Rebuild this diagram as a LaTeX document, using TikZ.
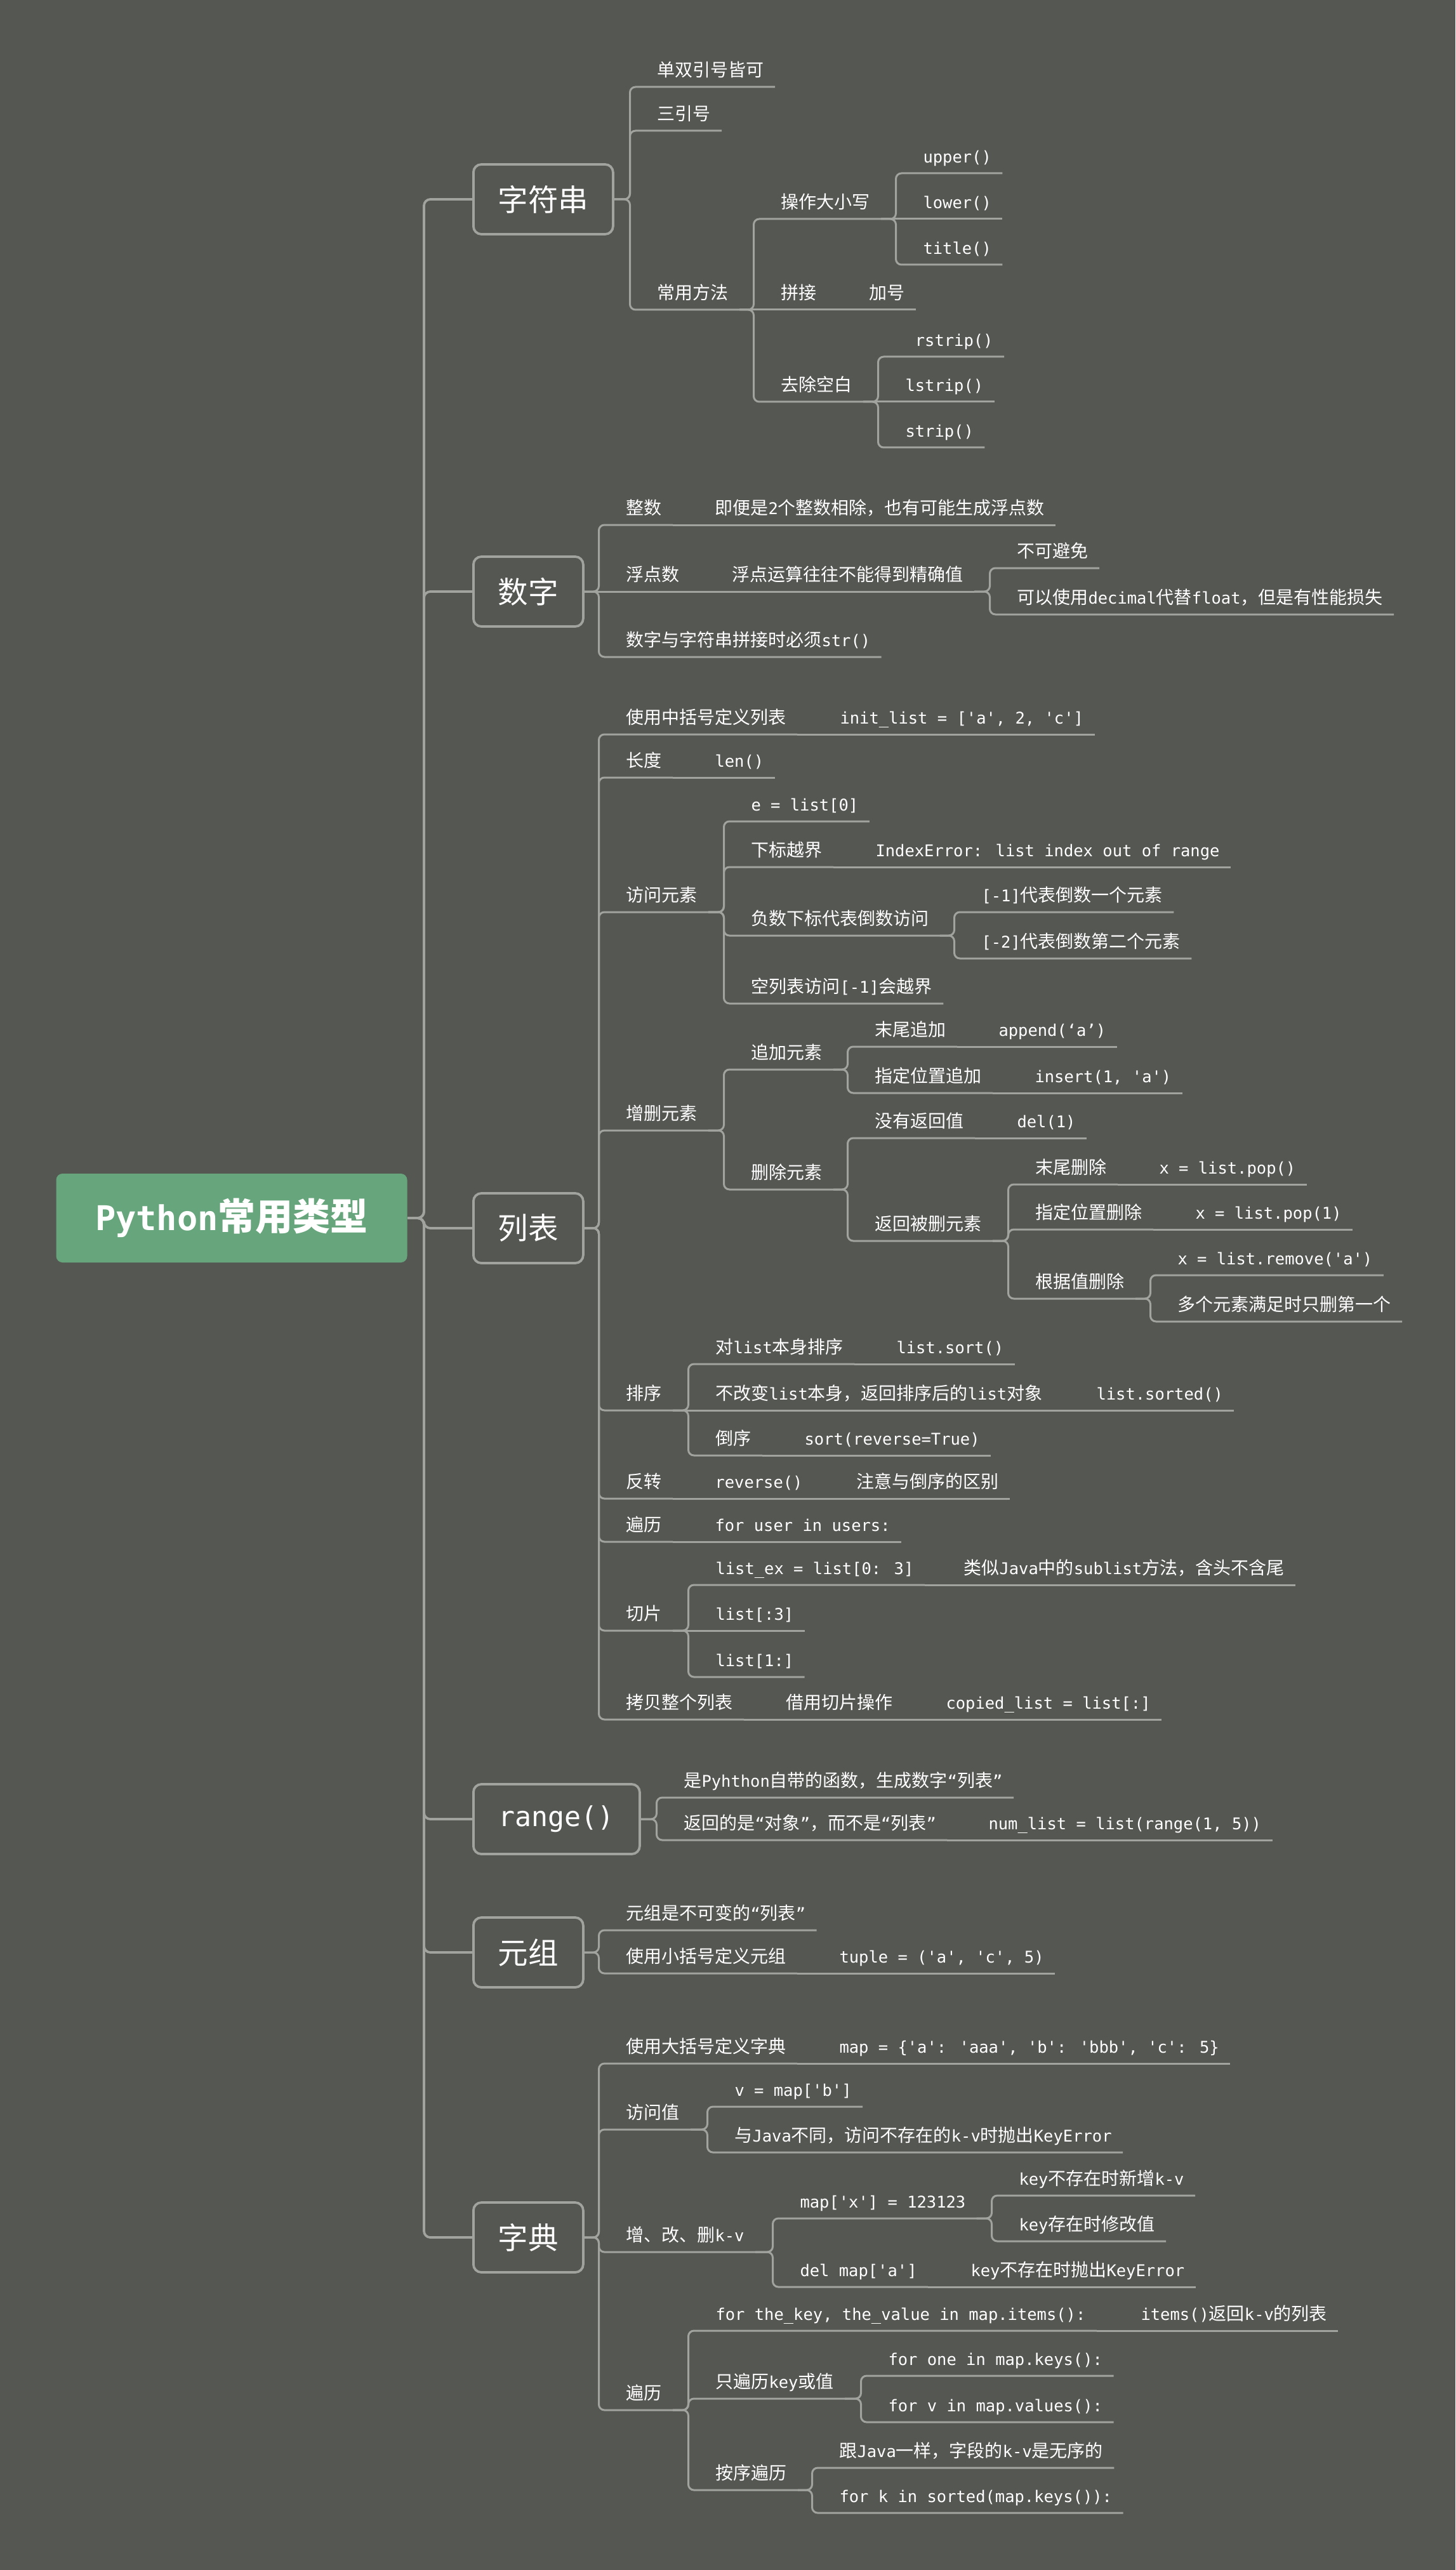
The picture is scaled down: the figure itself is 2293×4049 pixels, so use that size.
\documentclass[tikz,border=0pt]{standalone}
\usepackage{fontspec}
\setmainfont{Noto Sans CJK SC}
\newfontfamily\codefont{DejaVu Sans Mono}[Scale=0.91]
\usepackage{xcolor}
\usepackage{tikz}
\definecolor{bgc}{RGB}{85,87,83}
\definecolor{linec}{RGB}{160,163,158}
\definecolor{rootc}{RGB}{103,165,124}
\newcommand{\cd}[1]{{\codefont #1}}
\tikzstyle{rootbox} = [fill=rootc, rounded corners=4pt, anchor=west, minimum width=221.2pt, minimum height=56pt, text=white, font=\fontsize{23.6pt}{28pt}\selectfont\bfseries]
\tikzstyle{topicbox} = [draw=linec, line width=1.5pt, rounded corners=5pt, anchor=west, minimum height=44pt, inner xsep=0pt, text=white, font=\fontsize{19pt}{23pt}\selectfont]
\tikzstyle{leafnode} = [anchor=south west, inner xsep=6.8pt, inner ysep=0pt, text height=9pt, text depth=6.3pt, text=white, font=\fontsize{11.2pt}{13pt}\selectfont]
\tikzstyle{stem} = [draw=linec, line width=1.2pt, rounded corners=3.5pt]
\tikzstyle{trunkline} = [draw=linec, line width=1.5pt, rounded corners=4pt]

\begin{document}
\begin{tikzpicture}[x=0.4pt,y=-0.4pt]
    \path[use as bounding box, fill=bgc] (0,0) rectangle (2293,4049);
    \node[rootbox] (root) at (88,1919) {\cd{Python}常用类型};
    % topics
    \node[topicbox, minimum width=88pt] (str) at (744,314) {字符串};
    \node[topicbox, minimum width=69.2pt] (num) at (744,932) {数字};
    \node[topicbox, minimum width=69.2pt] (lst) at (744,1935) {列表};
    \node[topicbox, minimum width=104.8pt] (rng) at (744,2866) {\cd{range()}};
    \node[topicbox, minimum width=69.2pt] (tup) at (744,3076) {元组};
    \node[topicbox, minimum width=69.2pt] (dct) at (744,3525) {字典};
    % string
    \node[leafnode] (strQuote) at (1018,137) {单双引号皆可};
    \node[leafnode] (strTriple) at (1018,206) {三引号};
    \node[leafnode] (strMethod) at (1018,488) {常用方法};
    \node[leafnode] (strCase) at (1213,345) {操作大小写};
    \node[leafnode] (strUpper) at (1437,273) {\cd{upper()}};
    \node[leafnode] (strLower) at (1437,345) {\cd{lower()}};
    \node[leafnode] (strTitle) at (1437,417) {\cd{title()}};
    \node[leafnode] (strJoin) at (1213,488) {拼接};
    \node[leafnode] (strPlus) at (1352,488) {加号};
    \node[leafnode] (strStrip) at (1213,633) {去除空白};
    \node[leafnode] (strR) at (1409,562) {\cd{\ rstrip()}};
    \node[leafnode] (strL) at (1409,633) {\cd{lstrip()}};
    \node[leafnode] (strS) at (1409,705) {\cd{strip()}};
    % numbers
    \node[leafnode] (numInt) at (969,827) {整数};
    \node[leafnode] (numIntNote) at (1109,827) {即便是\cd{2}个整数相除，也有可能生成浮点数};
    \node[leafnode] (numFloat) at (969,932) {浮点数};
    \node[leafnode] (numFloatNote) at (1136,932) {浮点运算往往不能得到精确值};
    \node[leafnode] (numUnavoid) at (1585,895) {不可避免};
    \node[leafnode] (numDecimal) at (1585,968) {可以使用\cd{decimal}代替\cd{float}，但是有性能损失};
    \node[leafnode] (numStr) at (969,1035) {数字与字符串拼接时必须\cd{str()}};
    % list
    \node[leafnode] (lstDef) at (969,1157) {使用中括号定义列表};
    \node[leafnode] (lstDefCode) at (1306,1157) {\cd{init\_list = ['a', 2, 'c']}};
    \node[leafnode] (lstLen) at (969,1225) {长度};
    \node[leafnode] (lstLenCode) at (1109,1225) {\cd{len()}};
    \node[leafnode] (lstGet) at (969,1437) {访问元素};
    \node[leafnode] (lstGetA) at (1166,1294) {\cd{e = list[0]}};
    \node[leafnode] (lstGetB) at (1166,1366) {下标越界};
    \node[leafnode] (lstGetBErr) at (1362,1366) {\cd{IndexError: list index out of range}};
    \node[leafnode] (lstGetC) at (1166,1474) {负数下标代表倒数访问};
    \node[leafnode] (lstGetC1) at (1529,1437) {\cd{[-1]}代表倒数一个元素};
    \node[leafnode] (lstGetC2) at (1529,1510) {\cd{[-2]}代表倒数第二个元素};
    \node[leafnode] (lstGetD) at (1166,1581) {空列表访问\cd{[-1]}会越界};
    \node[leafnode] (lstEdit) at (969,1781) {增删元素};
    \node[leafnode] (lstAdd) at (1166,1685) {追加元素};
    \node[leafnode] (lstAddEnd) at (1361,1649) {末尾追加};
    \node[leafnode] (lstAddEndCode) at (1556,1649) {\cd{append(‘a’)}};
    \node[leafnode] (lstAddAt) at (1361,1722) {指定位置追加};
    \node[leafnode] (lstAddAtCode) at (1613,1722) {\cd{insert(1, 'a')}};
    \node[leafnode] (lstDel) at (1166,1874) {删除元素};
    \node[leafnode] (lstDelNone) at (1361,1793) {没有返回值};
    \node[leafnode] (lstDelNoneCode) at (1585,1793) {\cd{del(1)}};
    \node[leafnode] (lstDelRet) at (1361,1955) {返回被删元素};
    \node[leafnode] (lstPopEnd) at (1614,1866) {末尾删除};
    \node[leafnode] (lstPopEndCode) at (1809,1866) {\cd{x = list.pop()}};
    \node[leafnode] (lstPopAt) at (1614,1937) {指定位置删除};
    \node[leafnode] (lstPopAtCode) at (1866,1937) {\cd{x = list.pop(1)}};
    \node[leafnode] (lstRemove) at (1614,2046) {根据值删除};
    \node[leafnode] (lstRemoveCode) at (1838,2009) {\cd{x = list.remove('a')}};
    \node[leafnode] (lstRemoveNote) at (1838,2082) {多个元素满足时只删第一个};
    \node[leafnode] (lstSort) at (969,2222) {排序};
    \node[leafnode] (lstSortA) at (1110,2149) {对\cd{list}本身排序};
    \node[leafnode] (lstSortACode) at (1395,2149) {\cd{list.sort()}};
    \node[leafnode] (lstSortB) at (1110,2222) {不改变\cd{list}本身，返回排序后的\cd{list}对象};
    \node[leafnode] (lstSortBCode) at (1710,2222) {\cd{list.sorted()}};
    \node[leafnode] (lstSortC) at (1110,2293) {倒序};
    \node[leafnode] (lstSortCCode) at (1250,2293) {\cd{sort(reverse=True)}};
    \node[leafnode] (lstRev) at (969,2361) {反转};
    \node[leafnode] (lstRevCode) at (1109,2361) {\cd{reverse()}};
    \node[leafnode] (lstRevNote) at (1332,2361) {注意与倒序的区别};
    \node[leafnode] (lstLoop) at (969,2429) {遍历};
    \node[leafnode] (lstLoopCode) at (1109,2429) {\cd{for user in users:}};
    \node[leafnode] (lstSlice) at (969,2569) {切片};
    \node[leafnode] (lstSliceA) at (1110,2497) {\cd{list\_ex = list[0: 3]}};
    \node[leafnode] (lstSliceANote) at (1501,2497) {类似\cd{Java}中的\cd{sublist}方法，含头不含尾};
    \node[leafnode] (lstSliceB) at (1110,2569) {\cd{list[:3]}};
    \node[leafnode] (lstSliceC) at (1110,2642) {\cd{list[1:]}};
    \node[leafnode] (lstCopy) at (969,2709) {拷贝整个列表};
    \node[leafnode] (lstCopyHow) at (1221,2709) {借用切片操作};
    \node[leafnode] (lstCopyCode) at (1473,2709) {\cd{copied\_list = list[:]}};
    % range
    \node[leafnode] (rngA) at (1060,2832) {是\cd{Pyhthon}自带的函数，生成数字\cd{“}列表\cd{”}};
    \node[leafnode] (rngB) at (1060,2899) {返回的是\cd{“}对象\cd{”}，而不是\cd{“}列表\cd{”}};
    \node[leafnode] (rngBCode) at (1540,2899) {\cd{num\_list = list(range(1, 5))}};
    % tuple
    \node[leafnode] (tupA) at (969,3041) {元组是不可变的\cd{“}列表\cd{”}};
    \node[leafnode] (tupB) at (969,3109) {使用小括号定义元组};
    \node[leafnode] (tupBCode) at (1305,3109) {\cd{tuple = ('a', 'c', 5)}};
    % dict
    \node[leafnode] (dctDef) at (969,3251) {使用大括号定义字典};
    \node[leafnode] (dctDefCode) at (1305,3251) {\cd{map = \{'a': 'aaa', 'b': 'bbb', 'c': 5\}}};
    \node[leafnode] (dctGet) at (969,3355) {访问值};
    \node[leafnode] (dctGetA) at (1140,3319) {\cd{v = map['b']}};
    \node[leafnode] (dctGetB) at (1140,3391) {与\cd{Java}不同，访问不存在的\cd{k-v}时抛出\cd{KeyError}};
    \node[leafnode] (dctEdit) at (969,3548) {增、改、删\cd{k-v}};
    \node[leafnode] (dctSet) at (1243,3495) {\cd{map['x'] = 123123}};
    \node[leafnode] (dctSetA) at (1588,3459) {\cd{key}不存在时新增\cd{k-v}};
    \node[leafnode] (dctSetB) at (1588,3531) {\cd{key}存在时修改值};
    \node[leafnode] (dctDelKey) at (1243,3603) {\cd{del map['a']}};
    \node[leafnode] (dctDelKeyNote) at (1512,3603) {\cd{key}不存在时抛出\cd{KeyError}};
    \node[leafnode] (dctLoop) at (969,3797) {遍历};
    \node[leafnode] (dctLoopA) at (1110,3672) {\cd{for the\_key, the\_value in map.items():}};
    \node[leafnode] (dctLoopANote) at (1780,3672) {\cd{items()}返回\cd{k-v}的列表};
    \node[leafnode] (dctLoopB) at (1110,3779) {只遍历\cd{key}或值};
    \node[leafnode] (dctLoopB1) at (1382,3743) {\cd{for one in map.keys():}};
    \node[leafnode] (dctLoopB2) at (1382,3816) {\cd{for v in map.values():}};
    \node[leafnode] (dctLoopC) at (1110,3923) {按序遍历};
    \node[leafnode] (dctLoopC1) at (1305,3888) {跟\cd{Java}一样，字段的\cd{k-v}是无序的};
    \node[leafnode] (dctLoopC2) at (1305,3959) {\cd{for k in sorted(map.keys()):}};

    % connectors
    \foreach \tp in {str,num,lst,rng,tup,dct}
        \draw[trunkline] (root.east) -| ([xshift=-30.4pt]\tp.west) -- (\tp.west);
    \foreach \pa/\ch in {str/strQuote, str/strTriple, str/strMethod, num/numInt, num/numStr,
        lst/lstDef, lst/lstLen, lst/lstGet, lst/lstEdit, lst/lstSort, lst/lstRev, lst/lstLoop,
        lst/lstSlice, lst/lstCopy, rng/rngA, rng/rngB, tup/tupA, tup/tupB,
        dct/dctDef, dct/dctGet, dct/dctEdit, dct/dctLoop}
        \draw[stem] (\pa.east) -| ([xshift=-10.2pt]\ch.south west) -- (\ch.south east);
    \draw[stem] (num.east) -- (numFloat.south east);
    \foreach \pa/\ch in {strMethod/strCase, strMethod/strStrip, strCase/strUpper, strCase/strTitle,
        strStrip/strR, strStrip/strS, numFloatNote/numUnavoid, numFloatNote/numDecimal,
        lstGet/lstGetA, lstGet/lstGetB, lstGet/lstGetC, lstGet/lstGetD, lstGetC/lstGetC1, lstGetC/lstGetC2,
        lstEdit/lstAdd, lstEdit/lstDel, lstAdd/lstAddEnd, lstAdd/lstAddAt, lstDel/lstDelNone, lstDel/lstDelRet,
        lstDelRet/lstPopEnd, lstDelRet/lstPopAt, lstDelRet/lstRemove, lstRemove/lstRemoveCode, lstRemove/lstRemoveNote,
        lstSort/lstSortA, lstSort/lstSortC, lstSlice/lstSliceA, lstSlice/lstSliceC,
        dctGet/dctGetA, dctGet/dctGetB, dctEdit/dctSet, dctEdit/dctDelKey, dctSet/dctSetA, dctSet/dctSetB,
        dctLoop/dctLoopA, dctLoop/dctLoopB, dctLoop/dctLoopC, dctLoopB/dctLoopB1, dctLoopB/dctLoopB2,
        dctLoopC/dctLoopC1, dctLoopC/dctLoopC2}
        \draw[stem] (\pa.south east) -| ([xshift=-10.2pt]\ch.south west) -- (\ch.south east);
    \foreach \pa/\ch in {strMethod/strJoin, strJoin/strPlus, strCase/strLower, strStrip/strL,
        numInt/numIntNote, numFloat/numFloatNote, lstDef/lstDefCode, lstLen/lstLenCode, lstGetB/lstGetBErr,
        lstAddEnd/lstAddEndCode, lstAddAt/lstAddAtCode, lstDelNone/lstDelNoneCode, lstPopEnd/lstPopEndCode,
        lstPopAt/lstPopAtCode, lstSort/lstSortB, lstSortA/lstSortACode, lstSortB/lstSortBCode, lstSortC/lstSortCCode,
        lstRev/lstRevCode, lstRevCode/lstRevNote, lstLoop/lstLoopCode, lstSlice/lstSliceB, lstSliceA/lstSliceANote,
        lstCopy/lstCopyHow, lstCopyHow/lstCopyCode, rngB/rngBCode, tupB/tupBCode, dctDef/dctDefCode,
        dctDelKey/dctDelKeyNote, dctLoopA/dctLoopANote}
        \draw[stem] (\pa.south east) -- (\ch.south east);
\end{tikzpicture}
\end{document}
